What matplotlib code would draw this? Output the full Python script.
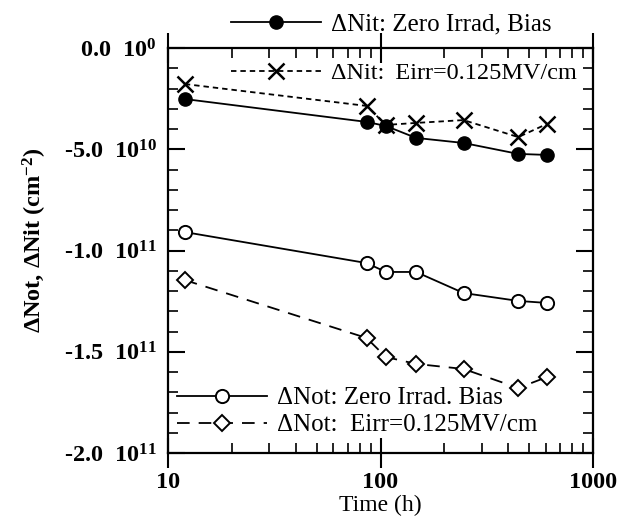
import numpy as np
import matplotlib
matplotlib.use("Agg")
import matplotlib.pyplot as plt
from matplotlib.ticker import FixedLocator, FuncFormatter, LogLocator, NullFormatter
from matplotlib.lines import Line2D

plt.rcParams["font.family"] = ["Liberation Serif", "DejaVu Serif"]
plt.rcParams["mathtext.fontset"] = "custom"
plt.rcParams["mathtext.rm"] = "Liberation Serif:bold"
plt.rcParams["mathtext.default"] = "rm"

# data
time_h = [12, 86, 106, 147, 246, 445, 607]
nit_zero = [-2.52e10, -3.65e10, -3.85e10, -4.44e10, -4.69e10, -5.23e10, -5.28e10]
nit_eirr = [-1.78e10, -2.86e10, -3.80e10, -3.70e10, -3.56e10, -4.40e10, -3.75e10]
not_zero = [-9.09e10, -1.062e11, -1.106e11, -1.106e11, -1.21e11, -1.249e11, -1.259e11]
not_eirr = [-1.146e11, -1.432e11, -1.526e11, -1.560e11, -1.585e11, -1.679e11, -1.625e11]

labels = [
    "\u0394Nit: Zero Irrad, Bias",
    "\u0394Nit: \u2009Eirr=0.125MV/cm",
    "\u0394Not: Zero Irrad. Bias",
    "\u0394Not:  Eirr=0.125MV/cm",
]
y_ticks = [0.0, -5e10, -1e11, -1.5e11, -2e11]

fig = plt.figure(figsize=(6.23, 5.24), dpi=100)
ax = fig.add_axes([168 / 623, 1 - 453 / 524, 425 / 623, 405 / 524])

lw = 1.3
styles = [
    dict(color="black", ls="-", lw=lw, marker="o", ms=9.5, mfc="black", mec="black"),
    dict(color="black", ls=(0, (3, 2.2)), lw=lw, marker="x", ms=12, mew=1.8),
    dict(color="black", ls="-", lw=lw, marker="o", ms=9.5, mfc="white", mec="black", mew=1.4),
    dict(color="black", ls=(0, (7, 5)), lw=lw, marker="D", ms=8, mfc="white", mec="black", mew=1.4),
]
series = [nit_zero, nit_eirr, not_zero, not_eirr]
for vals, st in zip(series, styles):
    ax.plot(time_h, vals, **st)

ax.set_xscale("log")
ax.set_xlim(10, 1000)
ax.set_ylim(-2e11, 0)

def yfmt(v, pos):
    if v == 0:
        return r"0.0  $10^{0}$"
    e = int(np.floor(np.log10(abs(v))))
    return r"%.1f  $10^{%d}$" % (v / 10 ** e, e)

ax.yaxis.set_major_locator(FixedLocator(y_ticks))
ax.yaxis.set_minor_locator(FixedLocator(np.arange(-2e11, 1e9, 1e10)))
ax.yaxis.set_major_formatter(FuncFormatter(yfmt))
ax.xaxis.set_major_locator(FixedLocator([10, 100, 1000]))
ax.xaxis.set_major_formatter(FuncFormatter(lambda v, p: "%d" % v))
ax.xaxis.set_minor_locator(LogLocator(base=10, subs=np.arange(2, 10)))
ax.xaxis.set_minor_formatter(NullFormatter())

ax.tick_params(axis="x", which="major", direction="inout", length=22, width=1.5,
               top=True, pad=3)
ax.tick_params(axis="x", which="minor", direction="in", length=7, width=1.2, top=True)
ax.tick_params(axis="y", which="major", direction="in", length=12, width=1.5,
               right=True, pad=8)
ax.tick_params(axis="y", which="minor", direction="in", length=7, width=1.2, right=True)
for lab in ax.get_xticklabels() + ax.get_yticklabels():
    lab.set_fontsize(17.5)
    lab.set_fontweight("bold")
for sp in ax.spines.values():
    sp.set_linewidth(1.6)

ax.set_xlabel("Time (h)", fontsize=17, labelpad=1)
fig.text(35 / 623, 1 - 240 / 524, r"$\Delta$Not, $\Delta$Nit (cm$^{-2}$)",
         rotation=90, ha="center", va="center", fontsize=17.5, fontweight="bold")

# legend entries placed one by one like in the original
spots = [(231, 24), (231, 73), (177, 398), (177, 425)]
sizes = [18, 17.5, 18, 18]
for st, lab, (px, py), fs in zip(styles, labels, spots, sizes):
    h = Line2D([], [], **st)
    leg = fig.legend([h], [lab], loc="center left",
                     bbox_to_anchor=(px / 623, 1 - py / 524),
                     bbox_transform=fig.transFigure, frameon=False,
                     fontsize=fs, handlelength=3.6 * 18 / fs, handletextpad=0.4,
                     borderpad=0, borderaxespad=0, numpoints=1)

fig.savefig("out.png", dpi=100)
